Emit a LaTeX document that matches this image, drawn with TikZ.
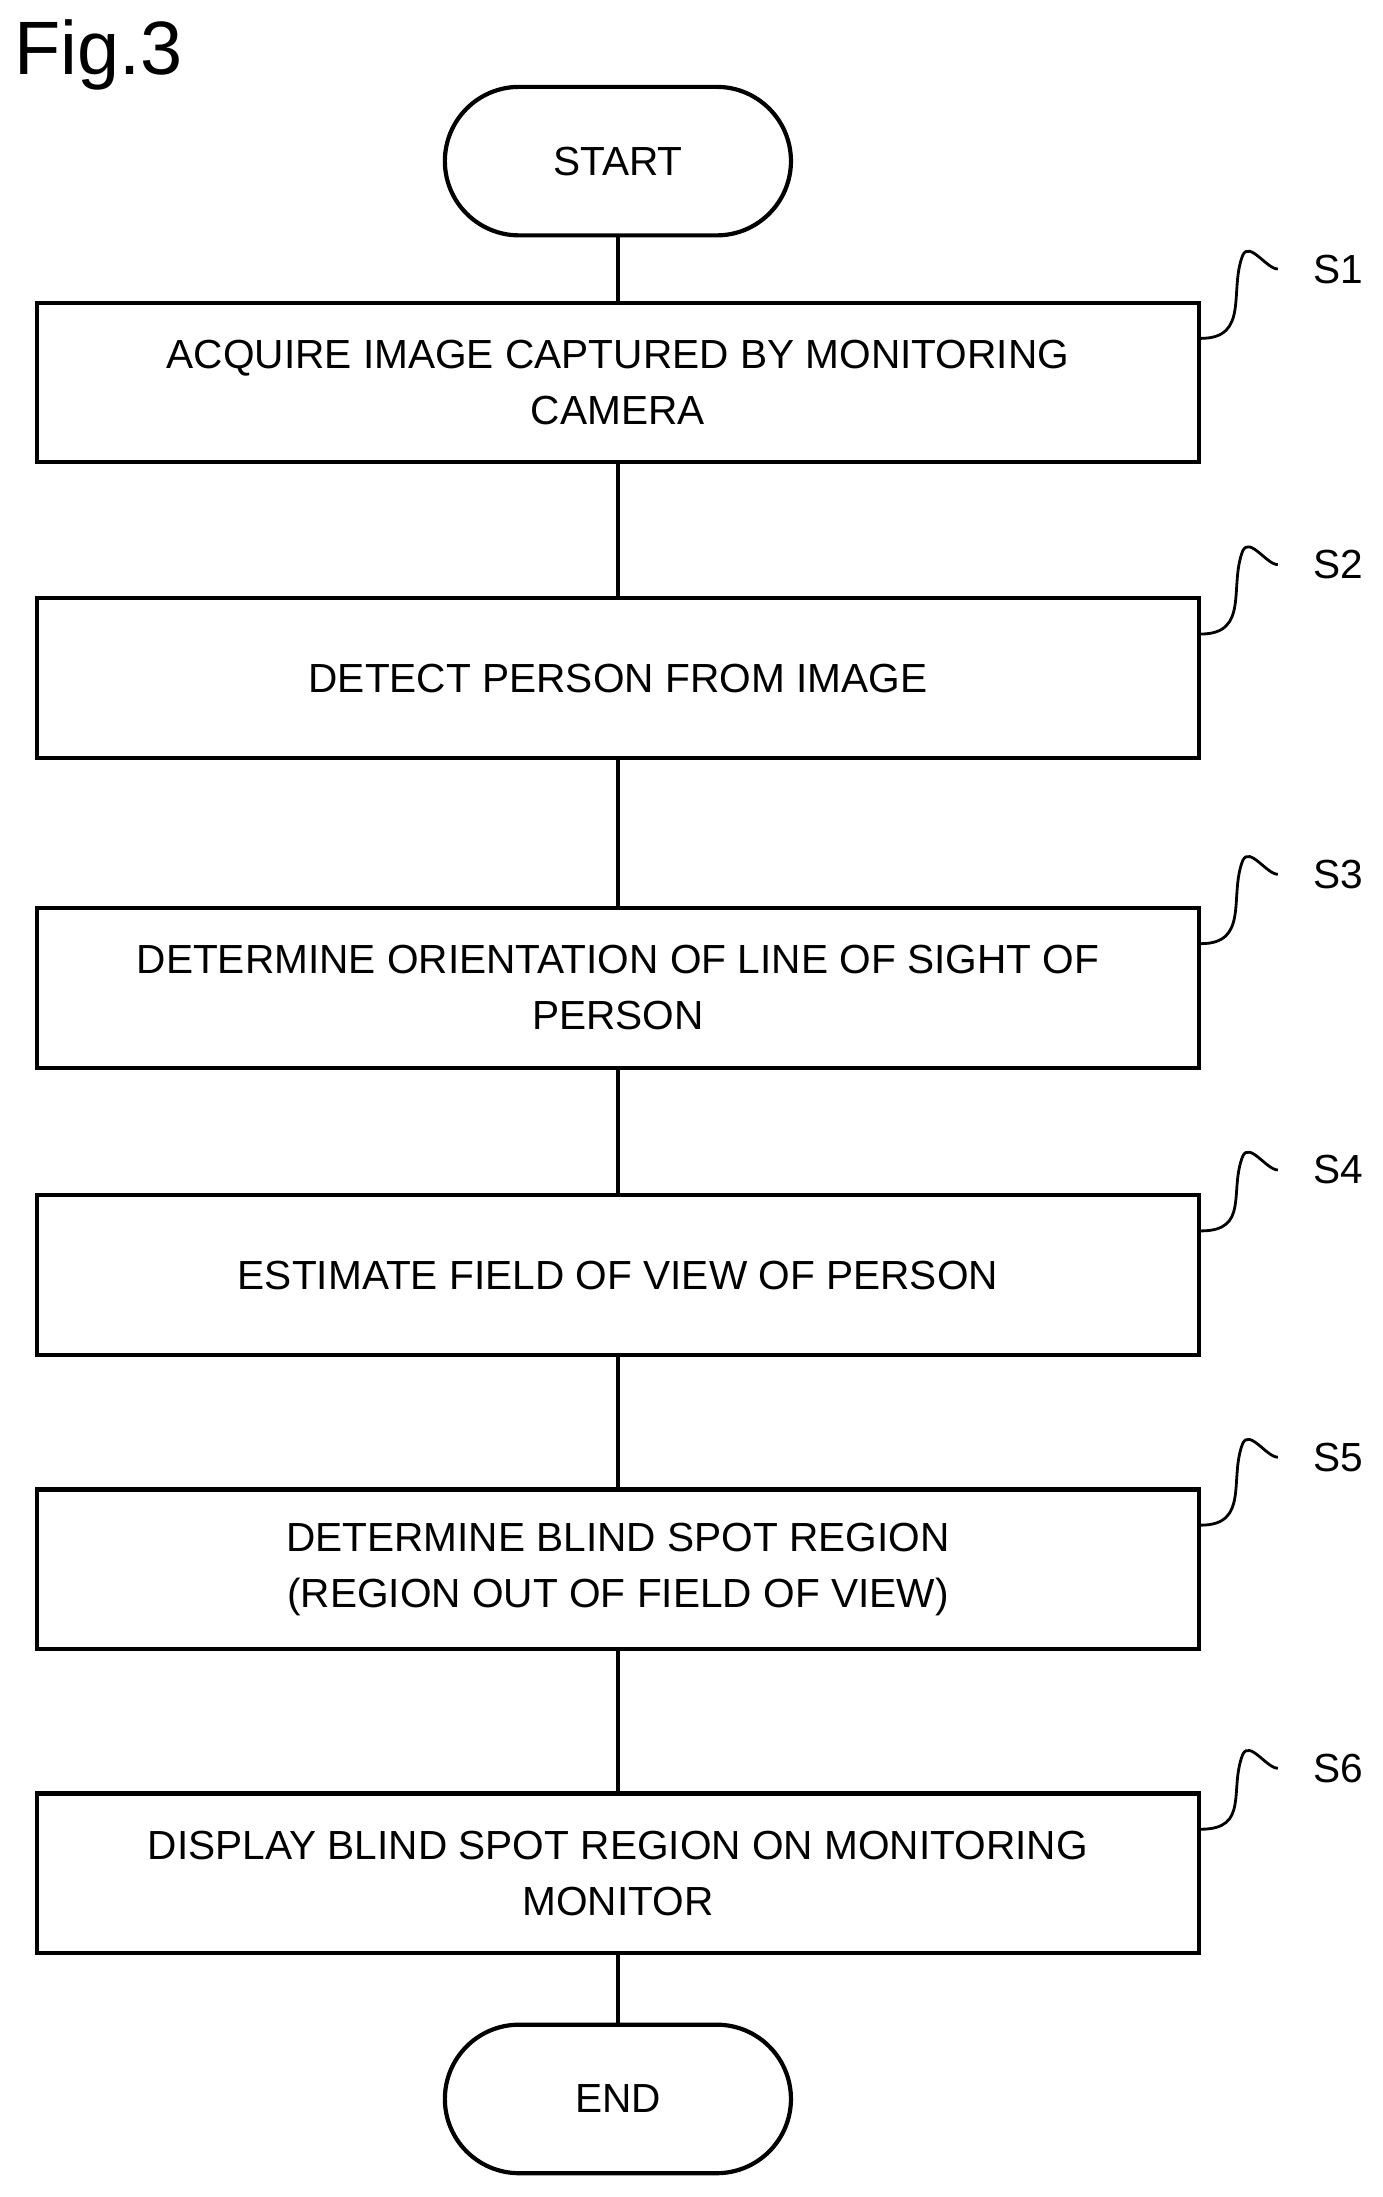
\documentclass[tikz,border=0pt]{standalone}
\usepackage{fontspec}
\setmainfont{Liberation Sans}
\begin{document}
\begin{tikzpicture}[x=1pt,y=-1pt,
  box/.style={draw,line width=3pt,minimum width=829pt,minimum height=114pt,align=center,font=\fontsize{29}{40}\selectfont,inner sep=0pt},
  term/.style={draw,line width=3pt,rounded corners=53pt,minimum width=247pt,minimum height=106pt,font=\fontsize{29}{40}\selectfont},
  lbl/.style={font=\fontsize{29}{34}\selectfont},
  squig/.style={line width=2pt},
  ln/.style={line width=3pt}]
\useasboundingbox (0,0) rectangle (987,1568);
\node[anchor=north west,font=\fontsize{54}{60}\selectfont,inner sep=0pt] (fig) at (10,14) {Fig.3};
\node[term] (start) at (441,115) {START};
\node[box] (s1) at (441,273) {ACQUIRE IMAGE CAPTURED BY MONITORING\\CAMERA};
\node[box] (s2) at (441,484) {DETECT PERSON FROM IMAGE};
\node[box] (s3) at (441,705) {DETERMINE ORIENTATION OF LINE OF SIGHT OF\\PERSON};
\node[box] (s4) at (441,910) {ESTIMATE FIELD OF VIEW OF PERSON};
\node[box] (s5) at (441,1120) {DETERMINE BLIND SPOT REGION\\(REGION OUT OF FIELD OF VIEW)};
\node[box] (s6) at (441,1337) {DISPLAY BLIND SPOT REGION ON MONITORING\\MONITOR};
\node[term] (end) at (441,1498) {END};
\draw[ln] (start)--(s1); \draw[ln] (s1)--(s2); \draw[ln] (s2)--(s3);
\draw[ln] (s3)--(s4); \draw[ln] (s4)--(s5); \draw[ln] (s5)--(s6); \draw[ln] (s6)--(end);
\foreach \n/\t/\ly in {s1/S1/192,s2/S2/403,s3/S3/624,s4/S4/835,s5/S5/1040,s6/S6/1262}{
  \node[lbl] (l\n) at (955,\ly) {\t};
  \coordinate (e\n) at (912,\ly);
  \draw[squig] ([yshift=-27pt]\n.north east) .. controls +(35,0) and +(-10,25) .. ([xshift=-25pt,yshift=10pt]e\n) .. controls +(5,-10) and +(-8,0) .. (e\n);
}
\end{tikzpicture}
\end{document}
